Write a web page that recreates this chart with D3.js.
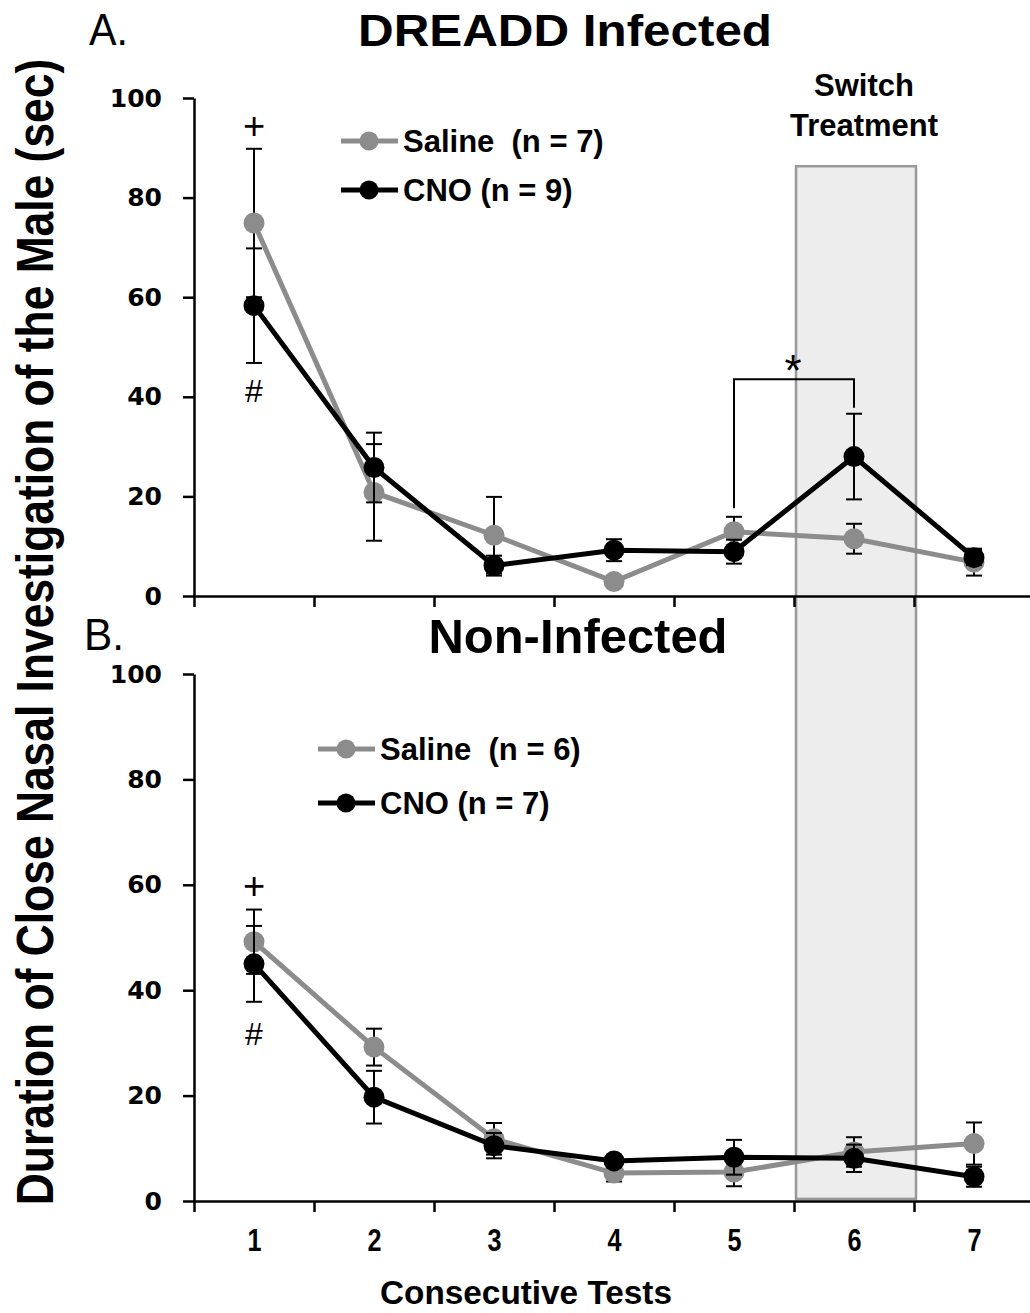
<!DOCTYPE html>
<meta charset="utf-8">
<style>
    body { margin: 0; background: #fff; }
    svg { display: block; font-family: "Liberation Sans", Arial, sans-serif; }
    .axis path, .axis line { stroke: #000; stroke-width: 2.5px; }
    .yaxis text { font-family: "DejaVu Sans", Verdana, sans-serif; font-weight: bold; font-size: 25px; fill: #000; }
    .xlabels text { font-family: "Liberation Sans", Arial, sans-serif; font-weight: bold; font-size: 32px; fill: #000; }
    .legend text { font-weight: bold; font-size: 31px; }
</style>
<svg width="1030" height="1313"></svg>
<script src="https://cdnjs.cloudflare.com/ajax/libs/d3/7.8.5/d3.min.js"></script>
<script>

// consecutive tests
var tests = [1, 2, 3, 4, 5, 6, 7];
var yTicks = [0, 20, 40, 60, 80, 100];

// A. DREADD infected
var dreaddSaline    = [74.9, 20.8, 12.2, 2.9, 12.9, 11.5, 6.8];
var dreaddSalineSem = [14.9, 9.7, 7.7, 1.0, 3.0, 3.0, 2.7];
var dreaddCno       = [58.3, 25.8, 6.1, 9.2, 8.9, 28.0, 7.7];
var dreaddCnoSem    = [11.5, 7.0, 2.0, 2.2, 2.4, 8.6, 1.5];

// B. non-infected
var nonSaline    = [49.2, 29.2, 11.8, 5.3, 5.5, 9.3, 10.9];
var nonSalineSem = [6.1, 3.5, 3.0, 1.6, 2.7, 2.8, 4.0];
var nonCno       = [45.0, 19.7, 10.5, 7.6, 8.3, 8.1, 4.6];
var nonCnoSem    = [7.2, 5.0, 2.4, 1.0, 3.3, 2.6, 1.9];

var salineColor = "#8c8c8c", cnoColor = "#000";

var svg = d3.select("svg");

var x = d3.scaleLinear().domain([0.5, 7.5]).range([194, 1034]);
var yA = d3.scaleLinear().domain([0, 100]).range([596, 98]);
var yB = d3.scaleLinear().domain([0, 100]).range([1201, 674]);

// switch treatment box spans test 6 across both panels
svg.append("rect")
    .attr("x", x(5.5) + 2)
    .attr("y", yA(86.3))
    .attr("width", x(6.5) - x(5.5))
    .attr("height", yB(0.4) - yA(86.3))
    .attr("fill", "#ededed")
    .attr("stroke", "#999")
    .attr("stroke-width", 2.5);

svg.append("text")
    .attr("x", 864).attr("y", 96)
    .attr("text-anchor", "middle")
    .style("font-weight", "bold").style("font-size", "31px")
    .text("Switch");
svg.append("text")
    .attr("x", 864).attr("y", 136)
    .attr("text-anchor", "middle")
    .style("font-weight", "bold").style("font-size", "31px")
    .text("Treatment");

function zip(vals, sems) {
    return tests.map(function(t, i) { return {t: t, v: vals[i], e: sems[i]}; });
}

function drawPanel(y, series, legend) {
    // axes
    svg.append("g")
        .attr("class", "axis")
        .attr("transform", "translate(0," + y(0) + ")")
        .call(d3.axisBottom(x)
            .tickValues(d3.range(0.5, 8, 1))
            .tickSize(11)
            .tickSizeOuter(0)
            .tickFormat(""));

    svg.append("g")
        .attr("class", "axis yaxis")
        .attr("transform", "translate(194,0)")
        .call(d3.axisLeft(y)
            .tickValues(yTicks)
            .tickSize(11)
            .tickSizeOuter(0)
            .tickPadding(21));

    var line = d3.line()
        .x(function(d) { return x(d.t); })
        .y(function(d) { return y(d.v); });

    series.forEach(function(s) {
        var g = svg.append("g");
        var err = g.selectAll(".err").data(s.data).enter().append("g")
            .attr("stroke", "#000").attr("stroke-width", 2);
        err.append("line")
            .attr("x1", function(d) { return x(d.t); })
            .attr("x2", function(d) { return x(d.t); })
            .attr("y1", function(d) { return y(d.v + d.e); })
            .attr("y2", function(d) { return y(d.v - d.e); });
        [1, -1].forEach(function(sign) {
            err.append("line")
                .attr("x1", function(d) { return x(d.t) - 8; })
                .attr("x2", function(d) { return x(d.t) + 8; })
                .attr("y1", function(d) { return y(d.v + sign * d.e); })
                .attr("y2", function(d) { return y(d.v + sign * d.e); });
        });
        g.append("path")
            .datum(s.data)
            .attr("fill", "none")
            .attr("stroke", s.color)
            .attr("stroke-width", 5)
            .attr("d", line);
        g.selectAll("circle").data(s.data).enter().append("circle")
            .attr("cx", function(d) { return x(d.t); })
            .attr("cy", function(d) { return y(d.v); })
            .attr("r", 10.5)
            .attr("fill", s.color);
    });

    // legend
    var lg = svg.append("g").attr("class", "legend");
    series.forEach(function(s, i) {
        var ly = legend.y + i * legend.dy;
        lg.append("line")
            .attr("x1", legend.x).attr("x2", legend.x + 57)
            .attr("y1", ly).attr("y2", ly)
            .attr("stroke", s.color).attr("stroke-width", 5);
        lg.append("circle")
            .attr("cx", legend.x + 28).attr("cy", ly).attr("r", 9.5)
            .attr("fill", s.color);
        lg.append("text")
            .attr("x", legend.x + 62).attr("y", ly + 11)
            .attr("xml:space", "preserve")
            .text(s.label);
    });
}

drawPanel(yA, [
    {label: "Saline  (n = 7)", color: salineColor, data: zip(dreaddSaline, dreaddSalineSem)},
    {label: "CNO (n = 9)", color: cnoColor, data: zip(dreaddCno, dreaddCnoSem)}
], {x: 341, y: 141, dy: 49});

drawPanel(yB, [
    {label: "Saline  (n = 6)", color: salineColor, data: zip(nonSaline, nonSalineSem)},
    {label: "CNO (n = 7)", color: cnoColor, data: zip(nonCno, nonCnoSem)}
], {x: 318, y: 749, dy: 54});

// category labels under the bottom panel
svg.append("g")
    .attr("class", "xlabels")
    .attr("transform", "translate(0," + yB(0) + ")")
    .call(d3.axisBottom(x).tickValues(tests).tickFormat(d3.format("d")).tickSize(0).tickPadding(27))
    .call(function(g) {
        g.select(".domain").remove();
        g.selectAll("text").attr("textLength", 14).attr("lengthAdjust", "spacingAndGlyphs");
    });

// significance marks
function mark(txt, xv, yPx, size) {
    svg.append("text")
        .attr("x", x(xv)).attr("y", yPx)
        .attr("text-anchor", "middle")
        .style("font-size", size + "px")
        .text(txt);
}
mark("+", 1, 139, 38);
mark("#", 1, 402, 32);
mark("+", 1, 899, 38);
mark("#", 1, 1045, 32);

svg.append("path")
    .attr("d", "M" + x(5) + "," + yA(17.6) + "V" + yA(43.5) + "H" + x(6) + "V" + yA(37.8))
    .attr("fill", "none").attr("stroke", "#000").attr("stroke-width", 2);
svg.append("text")
    .attr("x", 793).attr("y", 386)
    .attr("text-anchor", "middle")
    .style("font-size", "44px")
    .text("*");

// panel titles (narrow look via textLength)
function title(txt, xPx, yPx, size, len, bold, anchor) {
    svg.append("text")
        .attr("x", xPx).attr("y", yPx)
        .attr("text-anchor", anchor)
        .attr("textLength", len).attr("lengthAdjust", "spacingAndGlyphs")
        .style("font-size", size + "px")
        .style("font-weight", bold ? "bold" : "normal")
        .text(txt);
}
title("A.", 89, 45, 44, 39, false, "start");
title("DREADD Infected", 565, 46, 45, 414, true, "middle");
title("B.", 84, 650, 45, 40, false, "start");
title("Non-Infected", 578, 653, 48, 299, true, "middle");
title("Consecutive Tests", 526, 1304, 33, 292, true, "middle");

// y axis title, squeezed horizontally to look like a narrow face
svg.append("text")
    .attr("transform", "translate(53,632) rotate(-90) scale(0.87,1)")
    .attr("text-anchor", "middle")
    .style("font-size", "51px").style("font-weight", "bold")
    .text("Duration of Close Nasal Investigation of the Male (sec)");

</script>
